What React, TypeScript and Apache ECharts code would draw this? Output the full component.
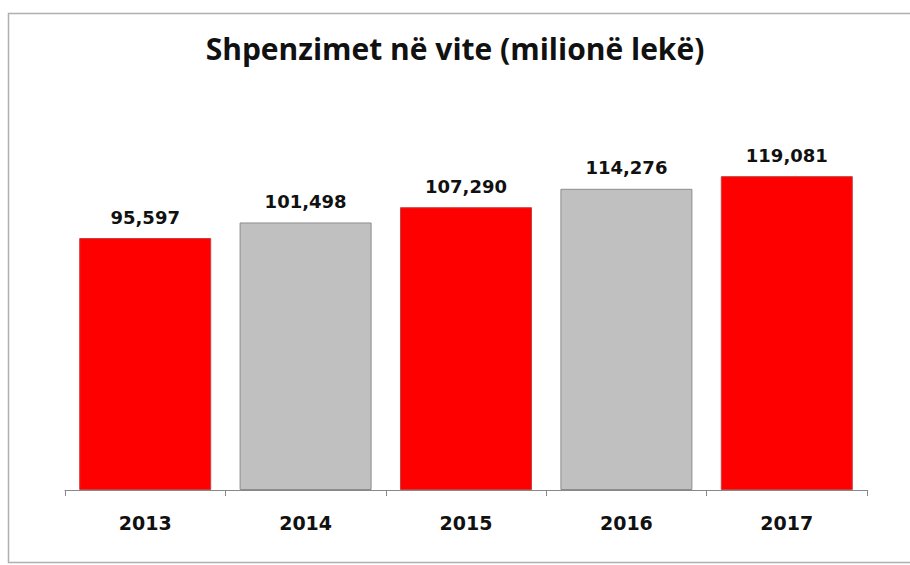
import React, { useEffect, useRef } from "react";
import * as echarts from "echarts";

const categories = ["2013", "2014", "2015", "2016", "2017"];
const values = [95597, 101498, 107290, 114276, 119081];
const barColors = ["#FF0000", "#C0C0C0", "#FF0000", "#C0C0C0", "#FF0000"];
const borderColors = ["#C84040", "#8C8C8C", "#C84040", "#8C8C8C", "#C84040"];
const titleText = "Shpenzimet në vite (milionë lekë)";

export default function App() {
  const ref = useRef<HTMLDivElement>(null);
  useEffect(() => {
    if (!ref.current) return;
    const chart = echarts.init(ref.current, null, { renderer: "svg" });
    chart.setOption({
      animation: false,
      backgroundColor: "#ffffff",
      title: {
        text: titleText,
        left: "center",
        top: 28,
        textStyle: { fontFamily: "Open Sans", fontWeight: "bold", fontSize: 30, color: "#111" },
      },
      graphic: [
        {
          type: "rect",
          shape: { x: 8.5, y: 13.5, width: 920, height: 549 },
          style: { fill: "none", stroke: "#B0B0B0", lineWidth: 1.5 },
          silent: true,
        },
      ],
      grid: { left: 65, right: 43, top: 121, bottom: 75 },
      xAxis: {
        type: "category",
        data: categories,
        boundaryGap: true,
        axisLine: { lineStyle: { color: "#888", width: 1 } },
        axisTick: { show: true, length: 6, inside: false, lineStyle: { color: "#888" } },
        axisLabel: {
          margin: 23,
          fontFamily: "DejaVu Sans",
          fontWeight: "bold",
          fontSize: 19,
          color: "#111",
        },
      },
      yAxis: {
        type: "value",
        min: 0,
        max: 140000,
        show: false,
        splitLine: { show: false },
      },
      series: [
        {
          type: "bar",
          barCategoryGap: "17.7%",
          data: values.map((v, i) => ({
            value: v,
            itemStyle: { color: barColors[i], borderColor: borderColors[i], borderWidth: 1 },
          })),
          label: {
            show: true,
            position: "top",
            distance: 12,
            fontFamily: "DejaVu Sans",
            fontWeight: "bold",
            fontSize: 18,
            color: "#111",
            formatter: (p: any) => p.value.toLocaleString("en-US"),
          },
        },
      ],
    });
    return () => chart.dispose();
  }, []);
  return <div ref={ref} style={{ width: 910, height: 565, position: "absolute", left: 0, top: 0 }} />;
}
